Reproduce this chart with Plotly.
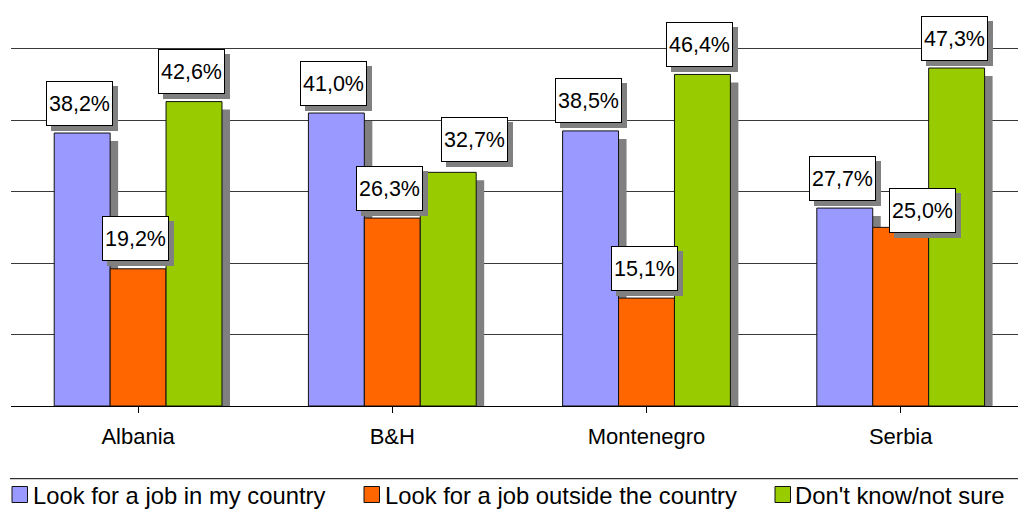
import plotly.graph_objects as go

categories = ["Albania", "B&H", "Montenegro", "Serbia"]
series_names = ["Look for a job in my country",
                "Look for a job outside the country",
                "Don't know/not sure"]
in_country = [38.2, 41.0, 38.5, 27.7]
outside_country = [19.2, 26.3, 15.1, 25.0]
dont_know = [42.6, 32.7, 46.4, 47.3]
series_values = [in_country, outside_country, dont_know]
colors = ["#9999FF", "#FF6600", "#99CC00"]

FONT = "Arial, Liberation Sans, sans-serif"
W = 0.22                       # bar width (category units)
offsets = [-1.5 * W, -0.5 * W, 0.5 * W]
PX_X = 254.2                   # px per category unit
PX_Y = 393 / 55                # px per percent unit
SH_DX = 8 / PX_X               # bar shadow offset (units)
SH_DY = 8 / PX_Y
SH_BASE = -3 / PX_Y

# manual label nudges (pixels) where the original labels were moved by hand
label_nudge = {(1, 2): (29, 3), (3, 1): (24, -13)}

fig = go.Figure()

# shadows first
for s, vals in enumerate(series_values):
    fig.add_trace(go.Bar(
        x=list(range(len(categories))),
        y=[v - SH_DY - SH_BASE for v in vals], base=[SH_BASE] * len(vals),
        offset=offsets[s] + SH_DX, width=W,
        marker=dict(color="#808080", line=dict(width=0)),
        showlegend=False, hoverinfo="skip", cliponaxis=False))

for s, vals in enumerate(series_values):
    fig.add_trace(go.Bar(
        x=list(range(len(categories))), y=vals, name=series_names[s],
        offset=offsets[s], width=W,
        marker=dict(color=colors[s], line=dict(color="#111111", width=1)),
        showlegend=False))

annotations = []
for s, vals in enumerate(series_values):
    for i, v in enumerate(vals):
        txt = f"{v:.1f}".replace(".", ",") + "%"
        dx, dy = label_nudge.get((i, s), (0, 0))
        xc = i + offsets[s] + W / 2
        common = dict(x=xc, y=v, xref="x", yref="y", showarrow=False,
                      xanchor="center", yanchor="bottom", width=63, height=41,
                      borderpad=1, borderwidth=1, align="center", valign="middle")
        annotations.append(dict(common, text=" ",
                                font=dict(family=FONT, size=21, color="#808080"),
                                bgcolor="#808080", bordercolor="#808080",
                                xshift=-2.5 + dx + 5, yshift=7.5 + dy - 5))
        annotations.append(dict(common, text=txt,
                                font=dict(family=FONT, size=21.5, color="#000000"),
                                bgcolor="#FFFFFF", bordercolor="#000000",
                                xshift=-2.5 + dx, yshift=7.5 + dy))

# custom legend
def px(x):
    return (x - 11) / 1007

def py(y):
    return (406 - y) / 393

shapes = [dict(type="line", xref="paper", yref="paper", x0=px(10), x1=px(1018),
               y0=py(478.7), y1=py(478.7), line=dict(color="#000000", width=1))]
leg_sq = [12, 364, 775]
leg_tx = [31, 383, 793]
for s in range(3):
    shapes.append(dict(type="rect", xref="paper", yref="paper",
                       x0=px(leg_sq[s]), x1=px(leg_sq[s] + 15.5),
                       y0=py(502.5), y1=py(486.5),
                       fillcolor=colors[s], line=dict(color="#111111", width=1)))
    annotations.append(dict(x=px(leg_tx[s]), y=py(495), xref="paper", yref="paper",
                            text=series_names[s], showarrow=False,
                            xanchor="left", yanchor="middle",
                            font=dict(family=FONT, size=23.8, color="#000000")))

fig.update_layout(
    width=1018, height=514,
    margin=dict(l=11, r=0, t=13, b=108),
    paper_bgcolor="#FFFFFF", plot_bgcolor="#FFFFFF",
    barmode="overlay",
    annotations=annotations, shapes=shapes,
    xaxis=dict(tickmode="array", tickvals=list(range(len(categories))),
               ticktext=categories, range=[-0.5, -0.5 + 1007 / PX_X],
               showline=True, linecolor="#000000", linewidth=1,
               ticks="outside", ticklen=6, tickcolor="#000000",
               showgrid=False, zeroline=False, ticklabelstandoff=5,
               tickfont=dict(family=FONT, size=22, color="#000000")),
    yaxis=dict(range=[0, 55], dtick=10, tick0=0, showticklabels=False,
               showgrid=True, gridcolor="#3a3a3a", gridwidth=1,
               zeroline=False, showline=False, ticks=""),
)

fig.write_html("out.html", config={"displayModeBar": False},
               post_script="document.body.style.margin='0';document.body.style.padding='0';")
